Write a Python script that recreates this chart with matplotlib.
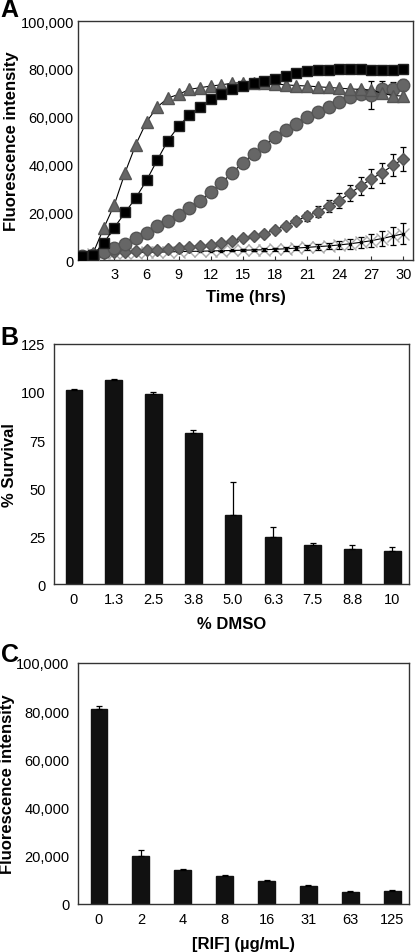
import numpy as np
import matplotlib
matplotlib.use('Agg')
import matplotlib.pyplot as plt
from matplotlib.ticker import FuncFormatter

plt.rcParams['font.family'] = ['Liberation Sans', 'DejaVu Sans']
plt.rcParams['font.size'] = 10.5

# =============================================================================
# Panel A: growth curves, hourly readings
# =============================================================================
hours = list(range(31))

squares = [1500, 2000, 7100, 13600, 19900, 26000, 33300, 41800, 50000, 56000,
           60700, 64000, 67200, 69300, 71500, 72800, 73900, 74900, 75800,
           77200, 78400, 78900, 79300, 79700, 79900, 80100, 80000, 79700,
           79700, 79700, 80000]
triangles = [1500, 2800, 13300, 23200, 36600, 48300, 57800, 64000, 67800,
             69300, 71400, 72100, 72800, 73300, 74000, 74200, 74200, 74000,
             73700, 73300, 73000, 72800, 72500, 72200, 71900, 71600, 71400,
             71100, 69800, 68800, 68600]
circles = [1500, 2300, 3300, 4900, 6700, 9200, 11500, 14400, 16200, 18900,
           21800, 24900, 28400, 32300, 36500, 40700, 44400, 47900, 51400,
           54200, 57000, 59800, 61900, 64000, 66300, 68200, 69500, 69100,
           71400, 71400, 73300]
circles_err = [0, 0, 0, 0, 0, 0, 0, 0, 0, 0, 0, 0, 0, 0, 0, 0, 0, 0, 0, 0,
               0, 0, 0, 0, 0, 0, 0, 6000, 3500, 3000, 2500]
diamonds = [1800, 2500, 3000, 3300, 3500, 3800, 4000, 4300, 4600, 4900,
            5300, 5800, 6300, 7000, 8000, 9200, 10000, 11000, 12600, 14400,
            16500, 18300, 20300, 22500, 24900, 28000, 30900, 34000, 36500,
            39600, 42300]
diamonds_err = [0, 0, 0, 0, 0, 0, 0, 0, 0, 0, 0, 0, 0, 0, 0, 0, 500, 800,
                1000, 1200, 1500, 1800, 2200, 2600, 3000, 3300, 3700, 4000,
                4300, 4600, 5000]
stars = [1500, 2600, 2800, 2900, 3000, 3100, 3200, 3300, 3400, 3500, 3600,
         3700, 3800, 3900, 4000, 4100, 4200, 4300, 4500, 4700, 5000, 5300,
         5600, 5900, 6300, 6800, 7400, 8100, 9000, 10000, 11000]
stars_err = [0, 0, 0, 0, 0, 0, 0, 0, 0, 0, 0, 0, 0, 0, 300, 400, 500, 600,
             700, 800, 900, 1000, 1200, 1400, 1700, 2000, 2400, 2800, 3300,
             3900, 4500]

# =============================================================================
# Panel B: survival vs DMSO
# =============================================================================
dmso_labels = ['0', '1.3', '2.5', '3.8', '5.0', '6.3', '7.5', '8.8', '10']
survival = [101, 106, 98.8, 78.8, 36, 24.3, 20.5, 18.5, 17.0]
survival_err = [0.5, 0.6, 1.0, 1.5, 17, 5.4, 0.8, 2.0, 2.4]

# =============================================================================
# Panel C: fluorescence vs rifampicin
# =============================================================================
rif_labels = ['0', '2', '4', '8', '16', '31', '63', '125']
rif_fluor = [80700, 20100, 14100, 11800, 9600, 7300, 5000, 5400]
rif_err = [1600, 2200, 400, 400, 300, 700, 300, 300]

spine_col = '#333333'
grey = '#666666'
lab_size = 12
letter_size = 18
comma_fmt = FuncFormatter(lambda v, p: '{:,.0f}'.format(v))


def style_axes(ax):
    for sp in ax.spines.values():
        sp.set_color(spine_col)
        sp.set_linewidth(1.0)


fig = plt.figure(figsize=(4.16, 9.53), dpi=100)

# ---- A ----
axA = fig.add_axes([0.1875, 0.7261, 0.8055, 0.2508])
style_axes(axA)
axA.plot(hours, stars, color='black', lw=0.8, zorder=2)
axA.plot(hours, stars, ls='none', marker='x', ms=8, mew=1.0,
         color='#aaaaaa', zorder=3)
axA.errorbar(hours, stars, yerr=stars_err, fmt='s', ms=2, color='black',
             elinewidth=0.9, capsize=2, capthick=0.9, zorder=4)
axA.errorbar(hours, diamonds, yerr=diamonds_err, fmt='-D', ms=6,
             mfc=grey, mec='#555555', color='black', lw=0.8,
             ecolor='black', elinewidth=0.9, capsize=2, capthick=0.9,
             zorder=5)
axA.errorbar(hours, circles, yerr=circles_err, fmt='-o', ms=9,
             mfc=grey, mec='#555555', color='black', lw=0.8,
             ecolor='black', elinewidth=0.9, capsize=2, capthick=0.9,
             zorder=6)
axA.plot(hours, triangles, '-^', ms=8, mfc=grey, mec='#555555',
         color='black', lw=0.8, zorder=7)
axA.plot(hours, squares, '-s', ms=7.5, mfc='black', mec='#222222',
         color='black', lw=0.8, zorder=8)
axA.set_xlim(-0.4, 30.9)
axA.set_ylim(0, 100000)
axA.set_xticks(range(3, 31, 3))
axA.set_yticks(range(0, 100001, 20000))
axA.yaxis.set_major_formatter(comma_fmt)
axA.tick_params(axis='x', direction='in', length=3, width=0.8,
                color=spine_col, pad=5)
axA.tick_params(axis='y', length=0, pad=3)
axA.set_xlabel('Time (hrs)', fontweight='bold', fontsize=lab_size,
               labelpad=6)
axA.set_ylabel('Fluorescence intensity', fontweight='bold',
               fontsize=lab_size, labelpad=1)
fig.text(0.002, 1.002, 'A', fontsize=letter_size, fontweight='bold',
         va='top', ha='left')

# ---- B ----
axB = fig.add_axes([0.1298, 0.3861, 0.8534, 0.2519])
style_axes(axB)
xb = np.arange(len(dmso_labels))
axB.bar(xb, survival, width=0.42, color='#111111', edgecolor='#111111',
        zorder=2)
axB.errorbar(xb, survival, yerr=[np.zeros(len(survival)), survival_err],
             fmt='none', ecolor='black', elinewidth=0.9, capsize=2,
             capthick=0.9, zorder=3)
axB.set_xlim(-0.5, 8.42)
axB.set_ylim(0, 125)
axB.set_xticks(xb)
axB.set_xticklabels(dmso_labels)
axB.set_yticks(range(0, 126, 25))
axB.tick_params(length=0, pad=6)
axB.set_xlabel('% DMSO', fontweight='bold', fontsize=lab_size, labelpad=7)
axB.set_ylabel('% Survival', fontweight='bold', fontsize=lab_size,
               labelpad=3)
fig.text(0.002, 0.658, 'B', fontsize=letter_size, fontweight='bold',
         va='top', ha='left')

# ---- C ----
axC = fig.add_axes([0.1875, 0.0504, 0.7957, 0.2529])
style_axes(axC)
xc = np.arange(len(rif_labels))
axC.bar(xc, rif_fluor, width=0.40, color='#111111', edgecolor='#111111',
        zorder=2)
axC.errorbar(xc, rif_fluor, yerr=[np.zeros(len(rif_fluor)), rif_err],
             fmt='none', ecolor='black', elinewidth=0.9, capsize=2,
             capthick=0.9, zorder=3)
axC.set_xlim(-0.5, 7.4)
axC.set_ylim(0, 100000)
axC.set_xticks(xc)
axC.set_xticklabels(rif_labels)
axC.set_yticks(range(0, 100001, 20000))
axC.yaxis.set_major_formatter(comma_fmt)
axC.tick_params(length=0, pad=6)
axC.set_xlabel('[RIF] (\u00b5g/mL)', fontweight='bold', fontsize=lab_size,
               labelpad=7)
axC.set_ylabel('Fluorescence intensity', fontweight='bold',
               fontsize=lab_size, labelpad=1)
fig.text(0.002, 0.325, 'C', fontsize=letter_size, fontweight='bold',
         va='top', ha='left')

fig.savefig('out.png', dpi=100)
